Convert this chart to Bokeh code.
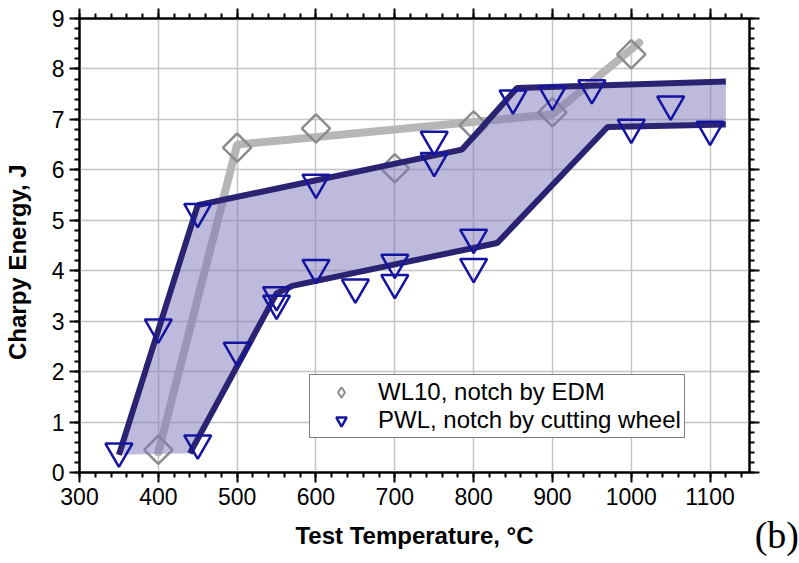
import math
from bokeh.plotting import figure
from bokeh.layouts import row
from bokeh.models import (Range1d, LinearAxis, SingleIntervalTicker, Legend, LegendItem,
                          Div, CustomJSTickFormatter)
from bokeh.embed import file_html
from bokeh.resources import INLINE

# ---- data ----
wl_temp = [400, 500, 600, 700, 800, 900, 1000]
wl_energy = [0.45, 6.44, 6.82, 6.03, 6.88, 7.14, 8.29]

wl_fit_temp = [400, 500, 900, 1010]
wl_fit_energy = [0.4, 6.5, 7.1, 8.52]

pwl_temp = [350, 400, 450, 450, 500, 550, 550, 600, 600, 650, 700, 700,
            750, 750, 800, 800, 850, 900, 950, 1000, 1050, 1100]
pwl_energy = [0.42, 2.88, 5.17, 0.58, 2.42, 3.52, 3.35, 5.75, 4.06, 3.67, 4.16, 3.76,
              6.6, 6.18, 4.66, 4.08, 7.42, 7.5, 7.62, 6.84, 7.3, 6.8]

upper_temp = [350, 450, 785, 855, 1120]
upper_energy = [0.35, 5.3, 6.4, 7.62, 7.75]

lower_temp = [440, 550, 570, 830, 970, 1120]
lower_energy = [0.38, 3.55, 3.7, 4.55, 6.85, 6.9]

x_ticks_interval = 100
y_ticks_interval = 1
legend_labels = ["WL10, notch by EDM", "PWL, notch by cutting wheel"]
x_title = "Test Temperature, °C"
y_title = "Charpy Energy, J"
panel_tag = "(b)"

FONT = "Liberation Sans"

p = figure(width=760, height=556, output_backend="svg", toolbar_location=None,
           x_range=Range1d(300, 1150), y_range=Range1d(0, 9),
           min_border_left=78, min_border_right=11, min_border_top=18, min_border_bottom=84,
           x_axis_label=x_title, y_axis_label=y_title + "\u00a0" * 5)
p.background_fill_color = "white"
p.border_fill_color = "white"
p.outline_line_color = "black"
p.outline_line_width = 2

xt = SingleIntervalTicker(interval=x_ticks_interval, num_minor_ticks=5)
yt = SingleIntervalTicker(interval=y_ticks_interval, num_minor_ticks=5)

def style_axis(ax, ticker):
    ax.ticker = ticker
    ax.axis_line_color = "black"
    ax.axis_line_width = 2
    ax.major_tick_line_color = "black"
    ax.major_tick_line_width = 2
    ax.minor_tick_line_color = "black"
    ax.minor_tick_line_width = 2
    ax.major_tick_out = 10
    ax.major_tick_in = 0
    ax.minor_tick_out = 5
    ax.minor_tick_in = 0
    ax.major_label_text_font = FONT
    ax.major_label_text_font_size = "23px"
    ax.major_label_text_color = "black"
    ax.axis_label_text_font = FONT
    ax.axis_label_text_font_size = "24px"
    ax.axis_label_text_font_style = "bold"
    ax.axis_label_text_color = "black"

style_axis(p.xaxis[0], xt)
style_axis(p.yaxis[0], yt)
p.xaxis[0].major_label_standoff = 5
p.xaxis[0].axis_label_standoff = 14
p.yaxis[0].major_label_standoff = 5
p.yaxis[0].axis_label_standoff = 18

for loc, tk in (("above", xt), ("right", yt)):
    ax = LinearAxis()
    style_axis(ax, tk)
    ax.formatter = CustomJSTickFormatter(code="return ''")
    ax.major_label_text_font_size = "1px"
    ax.major_label_standoff = 0
    p.add_layout(ax, loc)

p.xgrid.ticker = xt
p.ygrid.ticker = yt
p.xgrid.grid_line_color = "#c4c4c4"
p.ygrid.grid_line_color = "#c4c4c4"
p.xgrid.grid_line_width = 1.5
p.ygrid.grid_line_width = 1.5

# WL10 trend and points (under the band)
p.line(wl_fit_temp, wl_fit_energy, line_color="#b6b6b6", line_width=8, line_cap="round")
p.scatter(wl_temp, wl_energy, marker="square", angle=math.pi / 4, size=20,
          fill_color="white", fill_alpha=0.0, line_color="#8c8c8c", line_width=2.5)
# same points, diamond glyph used only for the legend entry
wl_legend_r = p.scatter(wl_temp, wl_energy, marker="diamond", size=28,
                        fill_color="white", fill_alpha=0.0, line_color="#8c8c8c",
                        line_width=2, visible=False)

# PWL scatter band
p.patch(upper_temp + lower_temp[::-1], upper_energy + lower_energy[::-1],
        fill_color="#7d75b9", fill_alpha=0.5, line_color=None)
p.line(upper_temp, upper_energy, line_color="#2b2372", line_width=6)
p.line(lower_temp, lower_energy, line_color="#2b2372", line_width=6)
pwl_r = p.scatter(pwl_temp, pwl_energy, marker="inverted_triangle", size=27,
                  fill_color="white", fill_alpha=0.0, line_color="#1414a0", line_width=2.5)

legend = Legend(items=[LegendItem(label=legend_labels[0], renderers=[wl_legend_r]),
                       LegendItem(label=legend_labels[1], renderers=[pwl_r])],
                location=(230, 34))
legend.label_text_font = FONT
legend.label_text_font_size = "24px"
legend.label_text_color = "black"
legend.label_height = 26
legend.glyph_height = 26
legend.glyph_width = 56
legend.label_standoff = 9
legend.spacing = 0
legend.padding = 3
legend.margin = 0
legend.border_line_color = "black"
legend.border_line_width = 1.5
legend.background_fill_color = "white"
legend.background_fill_alpha = 1.0
p.add_layout(legend)

tag = Div(text=panel_tag, width=47, height=38, margin=(516, 0, 0, -8),
          styles={"font-family": "Liberation Serif", "font-size": "38px",
                  "line-height": "1", "text-align": "right", "color": "black",
                  "white-space": "nowrap"})

layout = row(p, tag, spacing=0)

open("out.html", "w").write(file_html(layout, INLINE))
